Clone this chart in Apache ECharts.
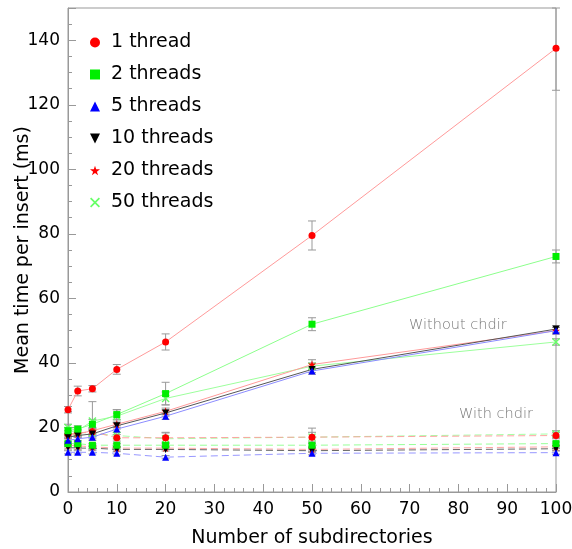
<!DOCTYPE html>
<html>
<head>
<meta charset="utf-8">
<script src="https://cdn.jsdelivr.net/npm/echarts@6/dist/echarts.min.js"></script>
<style>
  html, body { margin: 0; padding: 0; background: #fff; }
  #chart { width: 572px; height: 549px; }
</style>
</head>
<body>
<div id="chart"></div>
<script>
// number of subdirectories
const subdirs = [0, 2, 5, 10, 20, 50, 100]
const threadNames = ['1 thread', '2 threads', '5 threads', '10 threads', '20 threads', '50 threads']

// mean time per insert (ms), without chdir
const noChdir1 = [25.5, 31.3, 32, 38, 46.5, 79.5, 137.5]
const noChdir2 = [19, 19.5, 21, 24, 30.5, 52, 73]
const noChdir5 = [16, 16.5, 17, 19.5, 23.5, 37.5, 50]
const noChdir10 = [17, 17.5, 18, 20.5, 24.5, 38, 50.5]
const noChdir20 = [17.5, 18, 19, 21, 25, 39.5, 50]
const noChdir50 = [20, 19, 22, 23.5, 29, 39, 46.5]

// errors, without chdir
const noChdirErr1 = [1, 1.5, 1, 1.5, 2.5, 4.5, 13]
const noChdirErr2 = [1, 1, 1.5, 1.5, 3.5, 2, 2]
const noChdirErr5 = [0.5, 0.5, 0.5, 1, 1, 1, 1]
const noChdirErr10 = [0.5, 0.5, 1, 1, 1, 1, 1]
const noChdirErr20 = [0.5, 1, 1, 1, 1, 1.5, 1]
const noChdirErr50 = [1, 1, 6, 2, 2, 1, 1]

// mean time per insert (ms), with chdir
const chdir1 = [18, 18.3, 18.7, 16.8, 16.8, 17, 17.5]
const chdir2 = [15, 15, 14.5, 14.5, 14.5, 14.5, 15]
const chdir5 = [12.3, 12.3, 12.3, 12, 10.8, 12, 12.2]
const chdir10 = [13.8, 13.6, 13.6, 13.2, 13.2, 12.8, 13.4]
const chdir20 = [14.5, 14.3, 14, 13.6, 13.6, 13.2, 14]
const chdir50 = [19, 18.5, 18.2, 17.5, 16.5, 17, 18]

// errors, with chdir
const chdirErr1 = [1, 1, 1, 1, 1.5, 1.5, 1]
const chdirErr2 = [0.5, 0.5, 0.5, 0.5, 0.5, 0.5, 0.5]
const chdirErr5 = [0.5, 0.5, 0.5, 0.5, 0.5, 0.5, 0.5]
const chdirErr10 = [0.5, 0.5, 0.5, 0.5, 0.5, 0.5, 0.5]
const chdirErr20 = [0.5, 0.5, 0.5, 0.5, 0.5, 0.5, 0.5]
const chdirErr50 = [1, 1, 1, 1, 2, 2.8, 1]

const colors = ['#ff0000', '#00ee00', '#0000ff', '#000000', '#ff0000', '#66ff66']
const lineColors = ['#ff9a9a', '#8cff8c', '#8c8cff', '#555555', '#ff9a9a', '#9cff9c']
const symbols = [
  'circle',
  'rect',
  'triangle',
  'path://M0,0L10,0L5,10Z',
  'path://M5,0L6.2,3.6L10,3.6L6.9,5.9L8.1,9.5L5,7.3L1.9,9.5L3.1,5.9L0,3.6L3.8,3.6Z',
  'path://M0,1.2L1.2,0L5,3.8L8.8,0L10,1.2L6.2,5L10,8.8L8.8,10L5,6.2L1.2,10L0,8.8L3.8,5Z'
]
const symbolSizes = [7, 7, 7, 7, 8, 8]

const noChdir = [noChdir1, noChdir2, noChdir5, noChdir10, noChdir20, noChdir50]
const noChdirErr = [noChdirErr1, noChdirErr2, noChdirErr5, noChdirErr10, noChdirErr20, noChdirErr50]
const chdir = [chdir1, chdir2, chdir5, chdir10, chdir20, chdir50]
const chdirErr = [chdirErr1, chdirErr2, chdirErr5, chdirErr10, chdirErr20, chdirErr50]

const font = 'DejaVu Sans, sans-serif'

function errorBars(name, values, errs) {
  return {
    name: name,
    type: 'custom',
    z: 1,
    silent: true,
    data: subdirs.map((x, i) => [x, values[i] - errs[i], values[i] + errs[i]]),
    renderItem: function (params, api) {
      const x = api.value(0)
      const lo = api.coord([x, Math.max(api.value(1), 0)])
      const hi = api.coord([x, Math.min(api.value(2), 150)])
      const cap = 4
      const style = { stroke: '#999', lineWidth: 1 }
      return {
        type: 'group',
        children: [
          { type: 'line', shape: { x1: lo[0], y1: lo[1], x2: hi[0], y2: hi[1] }, style: style },
          { type: 'line', shape: { x1: lo[0] - cap, y1: lo[1], x2: lo[0] + cap, y2: lo[1] }, style: style },
          { type: 'line', shape: { x1: hi[0] - cap, y1: hi[1], x2: hi[0] + cap, y2: hi[1] }, style: style }
        ]
      }
    }
  }
}

function lineSeries(i, values, dashed) {
  return {
    name: threadNames[i],
    type: 'line',
    z: dashed ? 2 : 3,
    data: subdirs.map((x, k) => [x, values[k]]),
    symbol: symbols[i],
    symbolSize: symbolSizes[i],
    showAllSymbol: true,
    clip: false,
    itemStyle: { color: colors[i] },
    lineStyle: {
      color: lineColors[i],
      width: 1,
      type: dashed ? [7, 4] : 'solid',
      opacity: dashed ? 0.9 : 1
    },
    emphasis: { disabled: true }
  }
}

const series = []
for (let i = 0; i < threadNames.length; i++) {
  series.push(errorBars('err-no-' + i, noChdir[i], noChdirErr[i]))
  series.push(errorBars('err-ch-' + i, chdir[i], chdirErr[i]))
}
for (let i = threadNames.length - 1; i >= 0; i--) {
  series.push(lineSeries(i, chdir[i], true))
}
for (let i = threadNames.length - 1; i >= 0; i--) {
  series.push(lineSeries(i, noChdir[i], false))
}

const chart = echarts.init(document.getElementById('chart'))
chart.setOption({
  animation: false,
  grid: {
    left: 68,
    right: 16,
    top: 8,
    bottom: 57,
    outerBoundsMode: 'none',
    containLabel: false,
    show: true,
    borderColor: '#999',
    borderWidth: 1
  },
  legend: {
    orient: 'vertical',
    left: 85,
    top: 28,
    itemGap: 13,
    itemWidth: 10,
    itemHeight: 10,
    selectedMode: false,
    textStyle: { fontFamily: font, fontSize: 19, color: '#000', padding: [0, 0, 0, 6] },
    data: threadNames.map((n, i) => ({ name: n, icon: symbols[i] }))
  },
  xAxis: {
    type: 'value',
    min: 0,
    max: 100,
    interval: 10,
    name: 'Number of subdirectories',
    nameLocation: 'middle',
    nameGap: 37,
    nameTextStyle: { fontFamily: font, fontSize: 19, color: '#000' },
    axisLine: { show: true, lineStyle: { color: '#999' } },
    axisTick: { show: true, inside: true, length: 8, lineStyle: { color: '#999' } },
    minorTick: { show: true, splitNumber: 5, length: 4, lineStyle: { color: '#999' } },
    splitLine: { show: false },
    axisLabel: { fontFamily: font, fontSize: 17, color: '#000', margin: 9 }
  },
  yAxis: {
    type: 'value',
    min: 0,
    max: 150,
    interval: 20,
    name: 'Mean time per insert (ms)',
    nameLocation: 'middle',
    nameGap: 35,
    nameMoveOverlap: false,
    nameTextStyle: { fontFamily: font, fontSize: 19, color: '#000' },
    axisLine: { show: true, lineStyle: { color: '#999' } },
    axisTick: { show: true, inside: true, length: 8, lineStyle: { color: '#999' } },
    minorTick: { show: true, splitNumber: 4, length: 4, lineStyle: { color: '#999' } },
    splitLine: { show: false },
    axisLabel: { fontFamily: font, fontSize: 17, color: '#000', margin: 8, showMaxLabel: false }
  },
  graphic: [
    {
      type: 'text',
      left: 409,
      top: 318,
      style: { text: 'Without chdir', fontFamily: 'DejaVu Sans', fontWeight: 200, fontSize: 14.5, fill: '#777' }
    },
    {
      type: 'text',
      left: 459,
      top: 407,
      style: { text: 'With chdir', fontFamily: 'DejaVu Sans', fontWeight: 200, fontSize: 14.5, fill: '#777' }
    }
  ],
  series: series
})
</script>
</body>
</html>
